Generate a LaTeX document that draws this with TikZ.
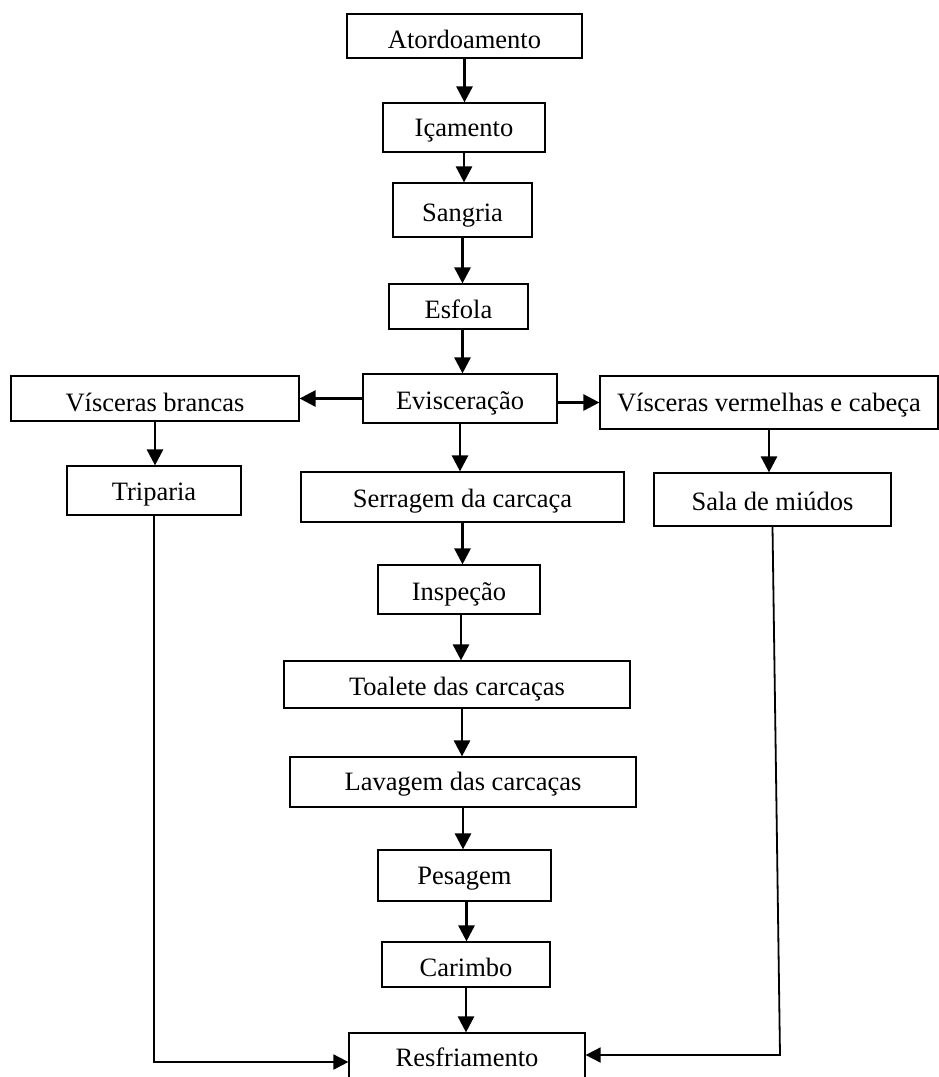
\documentclass[tikz,border=0pt]{standalone}
\usepackage{fontspec}
\setmainfont{Liberation Serif}
\usetikzlibrary{arrows.meta}
\tikzset{
  box/.style={draw, line width=1.2pt, inner sep=0pt, text height=21pt, text depth=0pt,
    font=\fontsize{26.5}{30}\selectfont},
  arr/.style={line width=2.7pt, -{Triangle[length=16pt,width=16pt]}},
  longarr/.style={line width=1.8pt, -{Triangle[length=15pt,width=15pt]}}
}
\begin{document}
\begin{tikzpicture}[x=1pt,y=-1pt]
\clip (0,0) rectangle (939,1077);
\fill[white] (0,0) rectangle (939,1077);
\node[box, text height=24pt, minimum width=235pt, minimum height=44pt] (atord) at (464.5,36) {Atordoamento};
\node[box, text height=18pt, minimum width=162pt, minimum height=49pt] (icam) at (464,127.5) {Içamento};
\node[box, text height=23pt, minimum width=139pt, minimum height=54pt] (sang) at (462.5,210) {Sangria};
\node[box, text height=23pt, minimum width=139pt, minimum height=45pt] (esf) at (458.5,306.5) {Esfola};
\node[box, text height=22pt, minimum width=194pt, minimum height=49pt] (evis) at (460,398.5) {Evisceração};
\node[box, text height=25pt, minimum width=288pt, minimum height=45pt] (vb) at (155,398.5) {Vísceras brancas};
\node[box, text height=17pt, minimum width=338pt, minimum height=53pt] (vv) at (769,402.5) {Vísceras vermelhas e cabeça};
\node[box, text height=19pt, minimum width=174pt, minimum height=49pt] (trip) at (154,490.5) {Triparia};
\node[box, text height=20pt, minimum width=323pt, minimum height=50pt] (serr) at (462.5,497) {Serragem da carcaça};
\node[box, text height=21pt, minimum width=237pt, minimum height=53pt] (sala) at (772.5,499.5) {Sala de miúdos};
\node[box, text height=21pt, minimum width=162pt, minimum height=49pt] (insp) at (459,589.5) {Inspeção};
\node[box, text height=21pt, minimum width=346pt, minimum height=47pt] (toal) at (457,684.5) {Toalete das carcaças};
\node[box, text height=17pt, minimum width=346pt, minimum height=50pt] (lav) at (463,782) {Lavagem das carcaças};
\node[box, text height=17pt, minimum width=173pt, minimum height=51pt] (pes) at (464.5,875.5) {Pesagem};
\node[box, text height=24pt, minimum width=168pt, minimum height=45pt] (car) at (466,964.5) {Carimbo};
\node[box, text height=21pt, minimum width=236pt, minimum height=46pt] (resf) at (467,1056) {Resfriamento};
\coordinate (lc) at (154,1062);
\coordinate (rc) at (780,1055);
\draw[arr] (atord.south) -- (atord.south |- icam.north);
\draw[arr] (icam.south) -- (icam.south |- sang.north);
\draw[arr] (sang.south) -- (sang.south |- esf.north);
\draw[arr] ([xshift=4pt]esf.south) -- ([xshift=4pt]esf.south |- evis.north);
\draw[arr] (evis.west) -- (evis.west -| vb.east);
\draw[arr] ([yshift=-4pt]evis.east) -- ([yshift=-4pt]evis.east -| vv.west);
\draw[arr] (vb.south) -- (vb.south |- trip.north);
\draw[arr] (vv.south) -- (vv.south |- sala.north);
\draw[arr] (evis.south) -- (evis.south |- serr.north);
\draw[arr] (serr.south) -- (serr.south |- insp.north);
\draw[arr] ([xshift=2pt]insp.south) -- ([xshift=2pt]insp.south |- toal.north);
\draw[arr] ([xshift=5pt]toal.south) -- ([xshift=5pt]toal.south |- lav.north);
\draw[arr] (lav.south) -- (lav.south |- pes.north);
\draw[arr] ([xshift=2pt]pes.south) -- ([xshift=2pt]pes.south |- car.north);
\draw[arr] (car.south) -- (car.south |- resf.north);
\draw[longarr] (trip.south) -- (lc) -- (lc -| resf.west);
\draw[longarr] (sala.south) -- (rc) -- (rc -| resf.east);
\end{tikzpicture}
\end{document}
